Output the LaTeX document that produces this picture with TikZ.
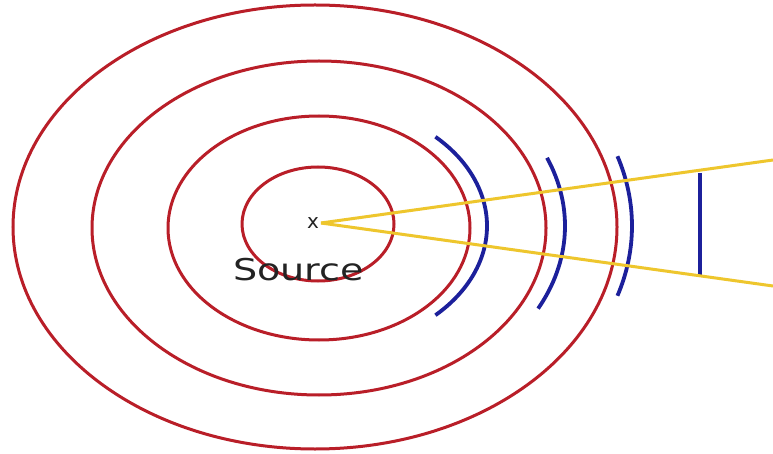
\documentclass[tikz,border=0pt]{standalone}
\usepackage{fontspec}
\newfontfamily\labelfont{DejaVu Sans}
\definecolor{ringred}{RGB}{185,30,40}
\definecolor{waveblue}{RGB}{28,32,155}
\definecolor{rayyellow}{RGB}{238,198,45}
\definecolor{txtgray}{RGB}{35,35,35}
\tikzset{
  ring/.style={draw=ringred, line width=3pt},
  wave/.style={draw=waveblue, line width=3.8pt},
  ray/.style={draw=rayyellow, line width=3pt},
}
\begin{document}
\begin{tikzpicture}[x=1pt,y=-1pt]
\useasboundingbox[fill=white] (0,0) rectangle (773,454);
\coordinate (c) at (318,226);
% rings
\draw[ring] (318,224) ellipse [x radius=76pt, y radius=57pt];
\draw[ring] (319,228) ellipse [x radius=151pt, y radius=112pt];
\draw[ring] (319,228) ellipse [x radius=227pt, y radius=167pt];
\draw[ring] (315,227) ellipse [x radius=302pt, y radius=222pt];
% wave fronts
\draw[wave] ([shift={(c)}] -46:169pt and 124pt) arc [start angle=-46, end angle=46, x radius=169pt, y radius=124pt];
\draw[wave] ([shift={(c)}] -27:247pt and 182pt) arc [start angle=-27, end angle=22, x radius=247pt, y radius=182pt];
\draw[wave] ([shift={(c)}] -17.5:314pt and 232pt) arc [start angle=-17.5, end angle=17.5, x radius=314pt, y radius=232pt];
\coordinate (bt) at (700,173);
\coordinate (bb) at (700,276);
\draw[wave, line width=3.2pt] (bt) -- (bb);
% rays
\coordinate (apex) at (321,223);
\coordinate (ue) at (773,160);
\coordinate (le) at (773,286);
\draw[ray] (apex) -- (ue);
\draw[ray] (apex) -- (le);
% labels
\node[text=txtgray, font=\labelfont\fontsize{20}{20}\selectfont, inner sep=0pt] (mark) at (313,223) {x};
\node[text=txtgray, font=\labelfont\fontsize{30}{30}\selectfont, inner sep=0pt, anchor=base west, xscale=1.27] (src) at (233,280) {Source};
\end{tikzpicture}
\end{document}
